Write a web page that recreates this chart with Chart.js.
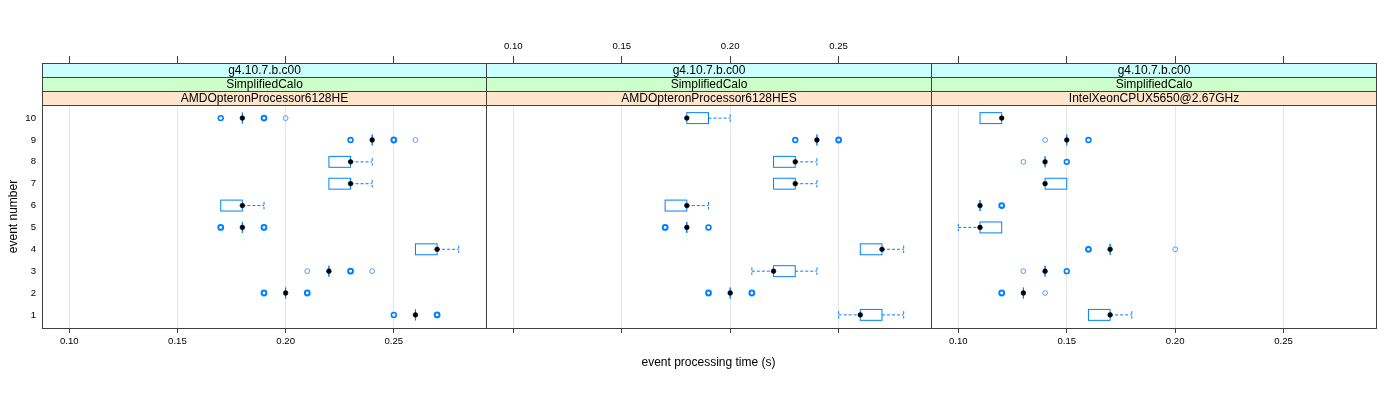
<!DOCTYPE html>
<html>
<head>
<meta charset="utf-8">
<script src="https://cdn.jsdelivr.net/npm/chart.js@4.4.1/dist/chart.umd.min.js"></script>
<style>
  body { margin: 0; background: #fff; }
  #wrap { position: relative; width: 1400px; height: 400px; }
  .panel { position: absolute; top: 0; height: 400px; }
</style>
</head>
<body>
<div id="wrap">
  <div class="panel" style="left:0;width:496px"><canvas id="p1"></canvas></div>
  <div class="panel" style="left:476px;width:465px"><canvas id="p2"></canvas></div>
  <div class="panel" style="left:921px;width:475px"><canvas id="p3"></canvas></div>
</div>
<script>
// axes
const events = [1, 2, 3, 4, 5, 6, 7, 8, 9, 10];
const xTicks = [0.10, 0.15, 0.20, 0.25];
const xMin = 0.0874, xMax = 0.2926;

// strip labels, one per panel
const stripVersion = ['g4.10.7.b.c00', 'g4.10.7.b.c00', 'g4.10.7.b.c00'];
const stripTest = ['SimplifiedCalo', 'SimplifiedCalo', 'SimplifiedCalo'];
const stripCpu = ['AMDOpteronProcessor6128HE', 'AMDOpteronProcessor6128HES', 'IntelXeonCPUX5650@2.67GHz'];

// AMDOpteronProcessor6128HE (event 1..10)
const heLo  = [0.26, 0.20, 0.22, 0.26, 0.18, 0.17, 0.22, 0.22, 0.24, 0.18];
const heQ1  = [0.26, 0.20, 0.22, 0.26, 0.18, 0.17, 0.22, 0.22, 0.24, 0.18];
const heMed = [0.26, 0.20, 0.22, 0.27, 0.18, 0.18, 0.23, 0.23, 0.24, 0.18];
const heQ3  = [0.26, 0.20, 0.22, 0.27, 0.18, 0.18, 0.23, 0.23, 0.24, 0.18];
const heHi  = [0.26, 0.20, 0.22, 0.28, 0.18, 0.19, 0.24, 0.24, 0.24, 0.18];
const heOut = [
  [0.25, 0.25, 0.27, 0.27, 0.27],
  [0.19, 0.19, 0.19, 0.21, 0.21, 0.21],
  [0.21, 0.23, 0.23, 0.23, 0.24],
  [],
  [0.17, 0.17, 0.17, 0.19, 0.19, 0.19],
  [], [], [],
  [0.23, 0.23, 0.25, 0.25, 0.25, 0.26],
  [0.17, 0.17, 0.19, 0.19, 0.19, 0.20]
];

// AMDOpteronProcessor6128HES
const hesLo  = [0.25, 0.20, 0.21, 0.26, 0.18, 0.17, 0.22, 0.22, 0.24, 0.18];
const hesQ1  = [0.26, 0.20, 0.22, 0.26, 0.18, 0.17, 0.22, 0.22, 0.24, 0.18];
const hesMed = [0.26, 0.20, 0.22, 0.27, 0.18, 0.18, 0.23, 0.23, 0.24, 0.18];
const hesQ3  = [0.27, 0.20, 0.23, 0.27, 0.18, 0.18, 0.23, 0.23, 0.24, 0.19];
const hesHi  = [0.28, 0.20, 0.24, 0.28, 0.18, 0.19, 0.24, 0.24, 0.24, 0.20];
const hesOut = [
  [],
  [0.19, 0.19, 0.19, 0.21, 0.21, 0.21],
  [], [],
  [0.17, 0.17, 0.17, 0.19, 0.19],
  [], [], [],
  [0.23, 0.23, 0.25, 0.25, 0.25],
  []
];

// IntelXeonCPUX5650@2.67GHz
const xeonLo  = [0.16, 0.13, 0.14, 0.17, 0.10, 0.11, 0.14, 0.14, 0.15, 0.11];
const xeonQ1  = [0.16, 0.13, 0.14, 0.17, 0.11, 0.11, 0.14, 0.14, 0.15, 0.11];
const xeonMed = [0.17, 0.13, 0.14, 0.17, 0.11, 0.11, 0.14, 0.14, 0.15, 0.12];
const xeonQ3  = [0.17, 0.13, 0.14, 0.17, 0.12, 0.11, 0.15, 0.14, 0.15, 0.12];
const xeonHi  = [0.18, 0.13, 0.14, 0.17, 0.12, 0.11, 0.15, 0.14, 0.15, 0.12];
const xeonOut = [
  [],
  [0.12, 0.12, 0.12, 0.14],
  [0.13, 0.15, 0.15],
  [0.16, 0.16, 0.16, 0.20],
  [],
  [0.12, 0.12, 0.12],
  [],
  [0.13, 0.15, 0.15],
  [0.14, 0.16, 0.16],
  []
];

Chart.defaults.font.family = "'Liberation Sans', Arial, sans-serif";
Chart.defaults.color = '#000';

const BLUE = '#0080ff';
const FRAME = '#404040';

// group repeated outliers so overlapping points get a heavier ring
function outlierPoints(out) {
  const pts = [];
  out.forEach((vals, i) => {
    const counts = {};
    vals.forEach(v => { counts[v] = (counts[v] || 0) + 1; });
    Object.keys(counts).forEach(v => pts.push({ x: +v, y: events[i], n: counts[v] }));
  });
  return pts;
}

// box + whisker drawing plugin, uses the chart's own scales
function boxPlugin(lo, q1, q3, hi) {
  return {
    id: 'boxes',
    beforeDatasetsDraw(chart) {
      const { x, y } = chart.scales;
      const ctx = chart.ctx;
      const unit = Math.abs(y.getPixelForValue(1) - y.getPixelForValue(2));
      const half = unit * 0.25;
      const cap = unit * 0.17;
      ctx.save();
      ctx.lineWidth = 1;
      ctx.strokeStyle = BLUE;
      events.forEach((ev, i) => {
        const py = y.getPixelForValue(ev);
        const xl = x.getPixelForValue(lo[i]), x1 = x.getPixelForValue(q1[i]);
        const x3 = x.getPixelForValue(q3[i]), xh = x.getPixelForValue(hi[i]);
        // whiskers (dashed)
        ctx.setLineDash([3, 2]);
        ctx.beginPath();
        if (xl < x1) { ctx.moveTo(xl, py); ctx.lineTo(x1, py); ctx.moveTo(xl, py - cap); ctx.lineTo(xl, py + cap); }
        if (xh > x3) { ctx.moveTo(x3, py); ctx.lineTo(xh, py); ctx.moveTo(xh, py - cap); ctx.lineTo(xh, py + cap); }
        ctx.stroke();
        // box
        ctx.setLineDash([]);
        ctx.strokeRect(x1, py - half, x3 - x1, half * 2);
      });
      ctx.restore();
    }
  };
}

// strips + panel frame
function stripPlugin(p) {
  return {
    id: 'strips',
    afterDraw(chart) {
      const a = chart.chartArea;
      const ctx = chart.ctx;
      const L = Math.round(a.left) + 0.5, R = Math.round(a.right) + 0.5;
      const T = Math.round(a.top) + 0.5, B = Math.round(a.bottom) + 0.5;
      const rows = [[stripVersion[p], '#ccffff'], [stripTest[p], '#ccffcc'], [stripCpu[p], '#ffe5cc']];
      ctx.save();
      rows.forEach((r, k) => {
        const top = T - 42 + 14 * k;
        ctx.fillStyle = r[1];
        ctx.fillRect(L, top, R - L, 14);
        ctx.strokeStyle = FRAME;
        ctx.lineWidth = 1;
        ctx.strokeRect(L, top, R - L, 14);
        ctx.fillStyle = '#000';
        ctx.font = "12px 'Liberation Sans', Arial, sans-serif";
        ctx.textAlign = 'center';
        ctx.textBaseline = 'middle';
        ctx.fillText(r[0], (L + R) / 2, top + 7.5);
      });
      ctx.strokeStyle = FRAME;
      ctx.strokeRect(L, T, R - L, B - T);
      ctx.restore();
    }
  };
}

function makePanel(id, p, lo, q1, med, q3, hi, out, opts) {
  const tickFont = { size: 9.6 };
  new Chart(document.getElementById(id), {
    type: 'scatter',
    data: {
      datasets: [
        {
          label: 'outliers',
          data: outlierPoints(out),
          pointStyle: 'circle',
          pointRadius: 2.4,
          backgroundColor: 'rgba(0,0,0,0)',
          borderColor: c => (c.raw && c.raw.n > 1) ? BLUE : 'rgba(0,128,255,0.7)',
          pointBorderWidth: c => (c.raw && c.raw.n >= 3) ? 2 : (c.raw && c.raw.n == 2 ? 1.6 : 1)
        },
        {
          label: 'median',
          data: events.map((ev, i) => ({ x: med[i], y: ev })),
          pointStyle: 'circle',
          pointRadius: 2.4,
          backgroundColor: '#000',
          borderColor: '#000',
          pointBorderWidth: 0.5
        }
      ]
    },
    options: {
      responsive: true,
      maintainAspectRatio: false,
      animation: false,
      layout: { padding: { left: opts.padL, right: opts.padR, top: 0, bottom: 0 } },
      plugins: { legend: { display: false }, tooltip: { enabled: false } },
      scales: {
        x: {
          type: 'linear', position: 'bottom', min: xMin, max: xMax,
          afterBuildTicks: s => { s.ticks = xTicks.map(v => ({ value: v })); },
          afterFit: s => { s.height = 72; },
          grid: { color: '#e6e6e6', tickColor: FRAME, tickLength: 5 },
          border: { display: false },
          ticks: { font: tickFont, padding: 3, maxRotation: 0, autoSkip: false,
                   callback: v => opts.bottomLabels ? v.toFixed(2) : '' },
          title: { display: opts.xTitle, text: 'event processing time (s)', font: { size: 12 },
                   padding: { top: 30, bottom: 30 } }
        },
        xt: {
          type: 'linear', position: 'top', min: xMin, max: xMax,
          afterBuildTicks: s => { s.ticks = xTicks.map(v => ({ value: v })); },
          afterFit: s => { s.height = 105; },
          grid: { drawOnChartArea: false, tickColor: FRAME, tickLength: 49 },
          border: { display: false },
          ticks: { font: tickFont, padding: 4, maxRotation: 0, autoSkip: false,
                   callback: v => opts.topLabels ? v.toFixed(2) : '' }
        },
        y: {
          type: 'linear', position: 'left', min: 0.4, max: 10.6,
          display: opts.yAxis,
          afterBuildTicks: s => { s.ticks = events.map(v => ({ value: v })); },
          afterFit: s => { if (opts.yAxis) s.width = 42; },
          grid: { drawOnChartArea: false, drawTicks: false },
          border: { display: false },
          ticks: { font: tickFont, padding: 6 },
          title: { display: true, text: 'event number', font: { size: 12 }, padding: { top: 6, bottom: 6 } }
        }
      }
    },
    plugins: [boxPlugin(lo, q1, q3, hi), stripPlugin(p)]
  });
}

makePanel('p1', 0, heLo, heQ1, heMed, heQ3, heHi, heOut,
  { padL: 0, padR: 10, yAxis: true, bottomLabels: true, topLabels: false, xTitle: false });
makePanel('p2', 1, hesLo, hesQ1, hesMed, hesQ3, hesHi, hesOut,
  { padL: 10, padR: 10, yAxis: false, bottomLabels: false, topLabels: true, xTitle: true });
makePanel('p3', 2, xeonLo, xeonQ1, xeonMed, xeonQ3, xeonHi, xeonOut,
  { padL: 10, padR: 20, yAxis: false, bottomLabels: true, topLabels: false, xTitle: false });
</script>
</body>
</html>
